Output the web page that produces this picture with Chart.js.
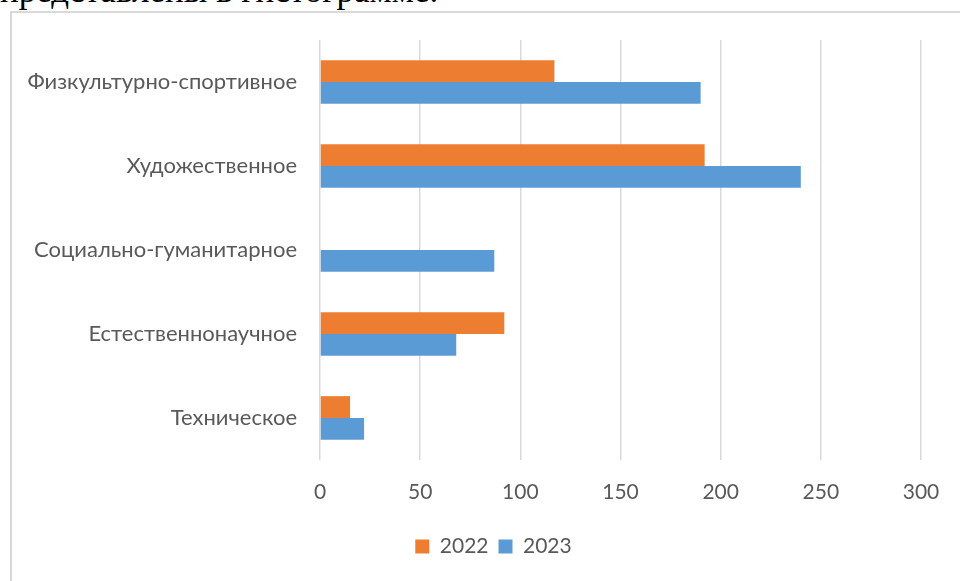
<!DOCTYPE html>
<html>
<head>
<meta charset="utf-8">
<script src="https://cdn.jsdelivr.net/npm/chart.js@4/dist/chart.umd.min.js"></script>
<style>
  html, body { margin: 0; padding: 0; background: #fff; overflow: hidden; }
  #wrap { position: relative; width: 960px; height: 581px; }
  #lead {
    position: absolute; left: 0; top: -29px; margin: 0;
    font-family: "Liberation Serif", serif; font-size: 35px; color: #000;
    white-space: nowrap;
  }
  #box {
    position: absolute; left: 10px; top: 11px; width: 960px; height: 600px;
    border: 2px solid #d9d9d9; box-sizing: border-box;
  }
  #c { position: absolute; left: 0; top: 0; }
</style>
</head>
<body>
<div id="wrap">
  <p id="lead">представлены в гистограмме.</p>
  <div id="box"></div>
  <canvas id="c" width="960" height="581"></canvas>
</div>
<script>
const categories = [
  "Физкультурно-спортивное",
  "Художественное",
  "Социально-гуманитарное",
  "Естественнонаучное",
  "Техническое",
];
const values2022 = [117, 192, 0, 92, 15];
const values2023 = [190, 240, 87, 68, 22];
const seriesNames = ["2022", "2023"];

const textColor = "#595959";
const gridColor = "#d9d9d9";
const fontFamily = "Lato, 'Open Sans', sans-serif";

// the legend in the reference sits a bit right of the canvas centre
const shiftLegend = {
  id: "shiftLegend",
  afterLayout(chart) {
    chart.legend.left += 33;
    chart.legend.right += 33;
  },
};

new Chart(document.getElementById("c"), {
  type: "bar",
  data: {
    labels: categories,
    datasets: [
      {
        label: seriesNames[0],
        data: values2022,
        backgroundColor: "#ED7D31",
        categoryPercentage: 0.52,
        barPercentage: 1,
      },
      {
        label: seriesNames[1],
        data: values2023,
        backgroundColor: "#5B9BD5",
        categoryPercentage: 0.52,
        barPercentage: 1,
      },
    ],
  },
  options: {
    indexAxis: "y",
    responsive: false,
    animation: false,
    layout: { padding: { top: 40, right: 39, bottom: 14, left: 0 } },
    scales: {
      x: {
        min: 0,
        max: 300,
        ticks: {
          stepSize: 50,
          color: textColor,
          font: { family: fontFamily, size: 21 },
          padding: 20,
        },
        grid: { color: gridColor, lineWidth: 1.5, drawTicks: false },
        border: { display: false },
        afterFit: (scale) => { scale.height = 66; },
      },
      y: {
        ticks: {
          color: textColor,
          font: { family: fontFamily, size: 22 },
          padding: 15,
        },
        grid: { display: false },
        border: { display: false },
        afterFit: (scale) => { scale.width = 320; },
      },
    },
    plugins: {
      legend: {
        position: "bottom",
        labels: {
          color: textColor,
          font: { family: fontFamily, size: 21 },
          boxWidth: 14,
          boxHeight: 14,
          padding: 10,
        },
      },
      tooltip: { enabled: false },
    },
  },
  plugins: [shiftLegend],
});
</script>
</body>
</html>
